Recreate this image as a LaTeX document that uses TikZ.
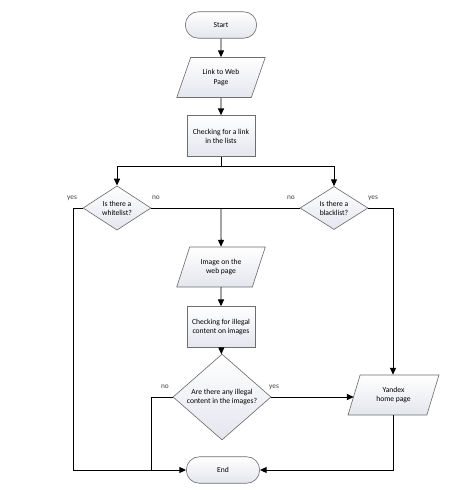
\documentclass[tikz,border=0pt]{standalone}
\usepackage{fontspec}
\setmainfont{Carlito}
\usetikzlibrary{arrows.meta,shapes.geometric}
\definecolor{shapedraw}{HTML}{6E6E6E}
\definecolor{shapetop}{HTML}{FFFFFF}
\definecolor{shapebottom}{HTML}{E4E6EE}
\definecolor{labelgray}{HTML}{404040}
\tikzset{
  >={Triangle[length=1.7mm,width=1.5mm]},
  basebox/.style={
    draw=shapedraw,
    line width=0.45pt,
    top color=shapetop,
    bottom color=shapebottom,
    align=center,
    inner sep=1pt,
    font=\fontsize{5.4}{6.5}\selectfont,
  },
  terminal/.style={basebox, rounded corners=0.32cm, minimum width=1.78cm, minimum height=0.66cm},
  procbox/.style={basebox, minimum width=1.7cm, minimum height=1.02cm},
  iobox/.style={basebox, trapezium, trapezium left angle=64, trapezium right angle=116,
    trapezium stretches=true, minimum width=2.22cm, minimum height=1.0cm},
  decision/.style={basebox, diamond, minimum width=1.7cm, minimum height=1.05cm, inner sep=0pt},
  flow/.style={line width=0.7pt},
  branch/.style={font=\fontsize{5.2}{6}\selectfont, text=labelgray, inner sep=1pt},
}

\begin{document}
\begin{tikzpicture}[x=0.025cm, y=-0.025cm, line join=miter]
  \useasboundingbox (0,0) rectangle (472,492);

  \node[terminal] (start) at (221, 25) {Start};
  \node[iobox] (link) at (221, 77.5) {Link to Web\\Page};
  \node[procbox] (check) at (221, 136) {Checking for a link\\in the lists};
  \node[decision] (white) at (117, 208) {Is there a\\whitelist?};
  \node[decision] (black) at (334, 208) {Is there a\\blacklist?};
  \node[iobox] (img) at (221, 267) {Image on the\\web page};
  \node[procbox] (check2) at (221, 327) {Checking for illegal\\content on images};
  \node[decision, minimum width=2.45cm, minimum height=1.6cm] (illegal) at (222, 397)
    {Are there any illegal\\content in the images?};
  \node[iobox, minimum width=2.28cm, trapezium left angle=70, trapezium right angle=110] (yandex) at (393.5, 395)
    {Yandex\\home page};
  \node[terminal, minimum width=1.83cm] (end) at (223, 470) {End};

  \coordinate (split) at (221, 166);
  \coordinate (mid) at (221, 208);
  \coordinate (wyes) at (73, 208);
  \coordinate (byes) at (393, 208);
  \coordinate (ino) at (151, 397);
  \coordinate (wbottom) at (73, 470);

  \node[branch] (wyeslbl) at (72, 198) {yes};
  \node[branch] (wnolbl) at (156, 198) {no};
  \node[branch] (bnolbl) at (291, 198) {no};
  \node[branch] (byeslbl) at (373, 198) {yes};
  \node[branch] (inolbl) at (165, 387) {no};
  \node[branch] (iyeslbl) at (274, 387) {yes};

  \draw[->, flow] (start) -- (link);
  \draw[->, flow] (link) -- (check);
  \draw[flow] (check) -- (split);
  \draw[->, flow] (split) -| (white);
  \draw[->, flow] (split) -| (black);
  \draw[flow] (white.east) -- (black.west);
  \draw[->, flow] (mid) -- (img);
  \draw[->, flow] (img) -- (check2);
  \draw[->, flow] (check2) -- (illegal);
  \draw[flow] (white.west) -- (wyes) -- (wbottom);
  \draw[->, flow] (wbottom) -- (end.west);
  \draw[flow] (illegal.west) -- (ino) -- (ino |- end.west);
  \draw[->, flow] (black.east) -- (byes) -- (yandex.north -| byes);
  \draw[->, flow] (illegal.east) -- (illegal.east -| yandex.west);
  \draw[->, flow] (yandex.south -| byes) |- (end.east);
\end{tikzpicture}
\end{document}
